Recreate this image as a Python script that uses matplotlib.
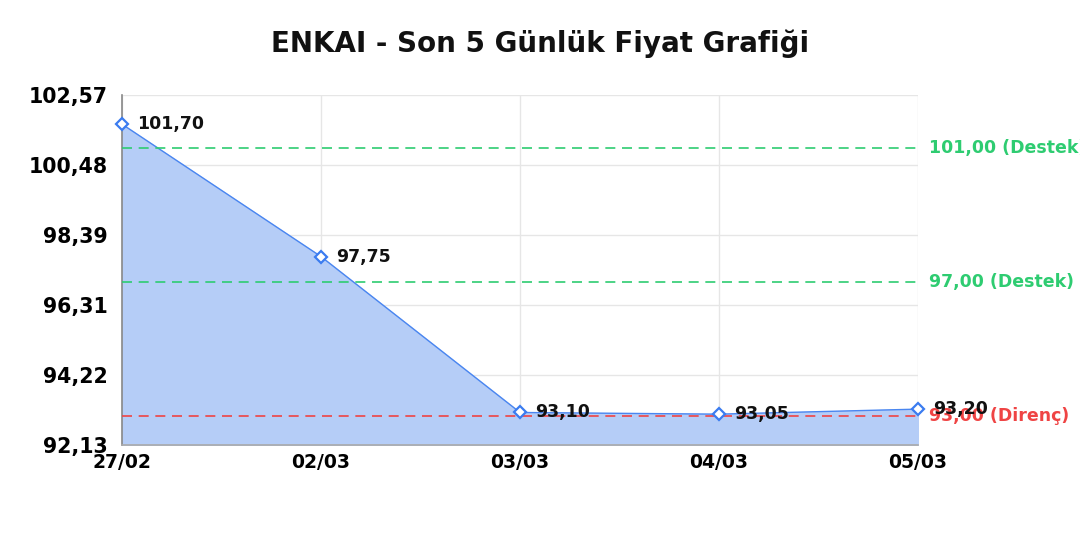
import matplotlib
matplotlib.use("Agg")
import matplotlib.pyplot as plt
import numpy as np

plt.rcParams["font.family"] = ["DejaVu Sans"]

dates = ["27/02", "02/03", "03/03", "04/03", "05/03"]
prices = [101.70, 97.75, 93.10, 93.05, 93.20]
price_labels = ["101,70", "97,75", "93,10", "93,05", "93,20"]
levels = [101.00, 97.00, 93.00]
level_labels = ["101,00 (Destek)", "97,00 (Destek)", "93,00 (Direnç)"]
level_colors = ["#2ecc71", "#2ecc71", "#ef4444"]
y_min, y_max = 92.13, 102.57
title = "ENKAI - Son 5 Günlük Fiyat Grafiği"

fig = plt.figure(figsize=(10.8, 5.4), dpi=100)
ax = fig.add_axes([122/1080, 1-445/540, (918-122)/1080, (445-95)/540])

x = np.arange(len(dates))
ax.fill_between(x, prices, y_min, color="#b5cdf7", zorder=2)
ax.plot(x, prices, color="#4a86f0", lw=1.0, zorder=3)
ax.plot(x, prices, linestyle="none", marker="D", markersize=6.5,
        markerfacecolor="white", markeredgecolor="#3b7cf0", markeredgewidth=1.6,
        zorder=5, clip_on=False)

for xi, yi, lab in zip(x, prices, price_labels):
    ax.annotate(lab, (xi, yi), xytext=(11, 0), textcoords="offset points",
                ha="left", va="center", fontsize=12.5, fontweight="bold",
                color="#111111", zorder=6, annotation_clip=False)

for lv, lab, col in zip(levels, level_labels, level_colors):
    ax.axhline(lv, color=col, lw=1.2, dashes=(6, 4), zorder=4)
    ax.annotate(lab, (1.0, lv), xycoords=("axes fraction", "data"),
                xytext=(8, 0), textcoords="offset points",
                ha="left", va="center", fontsize=12.5, fontweight="bold",
                color=col, annotation_clip=False)

ax.set_xlim(0, len(dates) - 1)
ax.set_ylim(y_min, y_max)
yt = np.linspace(y_min, y_max, 6)
ax.set_yticks(yt)
ax.set_yticklabels([f"{v:.2f}".replace(".", ",") for v in yt],
                   fontsize=14.8, fontweight="bold")
ax.set_xticks(x)
ax.set_xticklabels(dates, fontsize=13.5, fontweight="bold")
ax.tick_params(axis="both", length=0, pad=6)
ax.tick_params(axis="y", pad=10)

ax.grid(True, color="#e6e6e6", lw=1.0, zorder=0)
ax.set_axisbelow(True)
for s in ["top", "right"]:
    ax.spines[s].set_visible(False)
ax.spines["left"].set_color("#888888")
ax.spines["bottom"].set_color("#aaaaaa")
ax.spines["left"].set_linewidth(1.2)
ax.spines["bottom"].set_linewidth(1.2)

fig.text(540/1080, 1-44/540, title, ha="center", va="center",
         fontsize=20, fontweight="bold", color="#111111")

fig.savefig("out.png", dpi=100)
